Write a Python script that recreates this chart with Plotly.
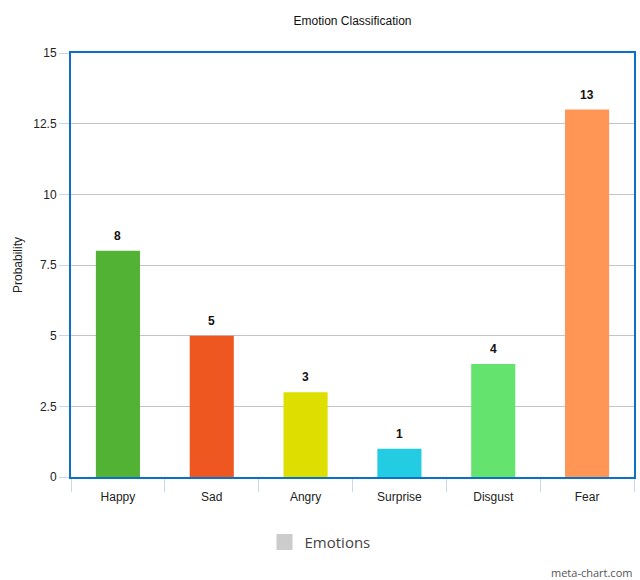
import plotly.graph_objects as go

categories = ["Happy", "Sad", "Angry", "Surprise", "Disgust", "Fear"]
values = [8, 5, 3, 1, 4, 13]
bar_colors = ["#52b234", "#ee5720", "#dede00", "#23cbe3", "#64e46e", "#ff9656"]
y_ticks = [0, 2.5, 5, 7.5, 10, 12.5, 15]
y_tick_labels = ["0", "2.5", "5", "7.5", "10", "12.5", "15"]
legend_name = "Emotions"

FONT = "Liberation Sans Narrow, Liberation Sans, Arial, sans-serif"

fig = go.Figure()
fig.add_trace(go.Bar(
    x=categories, y=values, marker=dict(color=bar_colors, line=dict(width=0)),
    showlegend=False, hoverinfo="x+y",
))
fig.add_trace(go.Scatter(
    x=[None], y=[None], name=legend_name, mode="markers",
    marker=dict(color="#cccccc", symbol="square", size=16, line=dict(width=0)),
    showlegend=True,
))

for c, v in zip(categories, values):
    fig.add_annotation(x=c, y=v, text=f"<b>{v}</b>", showarrow=False,
                       yshift=15, font=dict(family=FONT, size=12, color="#111"))

fig.add_annotation(xref="paper", yref="paper", x=1.0, y=-0.225, xanchor="right",
                   yanchor="middle", text="meta-chart.com", showarrow=False,
                   font=dict(family="Open Sans, sans-serif", size=11, color="#555"))

fig.update_layout(
    width=640, height=580,
    margin=dict(l=71, r=4, t=53, b=103),
    paper_bgcolor="white", plot_bgcolor="white",
    bargap=0.53,
    title=dict(text="Emotion Classification", x=0.5, xref="paper", y=0.965, yanchor="middle",
               font=dict(family=FONT, size=12, color="#111")),
    font=dict(family=FONT, size=12, color="#222"),
    legend=dict(orientation="h", x=0.5, xanchor="center", xref="container",
                y=0.065, yref="container", yanchor="middle",
                font=dict(family="Open Sans, sans-serif", size=15, color="#444"),
                itemsizing="trace"),
    xaxis=dict(
        type="category", tickson="boundaries", ticks="outside", ticklen=13,
        tickcolor="#c8d8ea", tickwidth=1, showgrid=False,
        showline=True, linecolor="#0b70c6", linewidth=2, mirror=True,
        ticklabelstandoff=8,
        tickfont=dict(family=FONT, size=12, color="#222"),
    ),
    yaxis=dict(
        range=[0, 15], tickvals=y_ticks, ticktext=y_tick_labels,
        ticks="outside", ticklen=10, tickcolor="#c8d8ea", tickwidth=1,
        showgrid=True, gridcolor="#c4c4c4", gridwidth=1, zeroline=False,
        showline=True, linecolor="#0b70c6", linewidth=2, mirror=True,
        tickfont=dict(family=FONT, size=12, color="#222"),
        title=dict(text="Probability", standoff=8,
                   font=dict(family="Liberation Sans, Arial, sans-serif", size=12, color="#222")),
    ),
)

fig.write_html("out.html")
